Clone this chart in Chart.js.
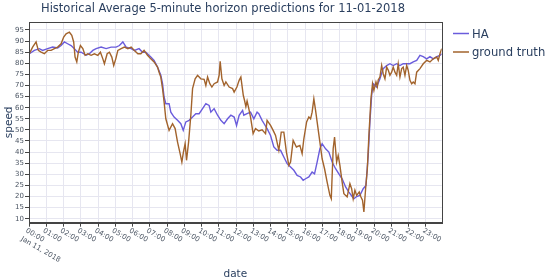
<!DOCTYPE html>
<html>
<head>
<meta charset="utf-8">
<script src="https://cdn.jsdelivr.net/npm/chart.js@4"></script>
<style>
  html, body { margin: 0; padding: 0; background: #fff; }
  #wrap { width: 550px; height: 280px; }
</style>
</head>
<body>
<div id="wrap"><canvas id="c" width="550" height="280"></canvas></div>
<script>
// ---- data (hours since midnight, speed) ----
const chartTitle = "Historical Average 5-minute horizon predictions for 11-01-2018";
const hourLabels = ["00:00","01:00","02:00","03:00","04:00","05:00","06:00","07:00","08:00","09:00","10:00","11:00",
                    "12:00","13:00","14:00","15:00","16:00","17:00","18:00","19:00","20:00","21:00","22:00","23:00"];
const dateLabel = "Jan 11, 2018";
const speedTicks = [10,15,20,25,30,35,40,45,50,55,60,65,70,75,80,85,90,95];

const haHours = [0.02,0.31,0.60,0.79,1.08,1.37,1.66,1.86,2.05,2.24,2.44,2.63,2.82,3.02,3.31,3.50,3.70,3.89,4.18,4.47,4.76,5.05,5.24,5.44,5.63,5.92,6.11,
  6.38,6.58,6.77,7.06,7.25,7.45,7.64,7.74,7.83,7.93,8.12,8.22,8.41,8.61,8.80,8.94,9.09,9.28,9.48,9.67,9.86,10.06,10.25,10.44,10.54,10.73,10.93,11.12,11.31,11.51,11.70,11.89,12.03,12.18,12.38,
  12.45,12.64,12.84,13.03,13.22,13.32,13.51,13.61,13.80,14.00,14.19,14.38,14.58,14.77,14.96,15.16,15.35,15.54,15.74,15.89,16.03,16.22,16.41,16.55,16.70,16.86,16.99,17.19,17.38,17.57,17.77,17.96,18.15,18.35,18.54,
  18.73,18.83,18.99,19.18,19.37,19.53,19.66,19.76,19.86,19.95,20.15,20.34,20.53,20.73,20.92,21.11,21.31,21.50,21.69,21.89,22.08,22.27,22.47,22.66,22.85,23.05,23.24,23.43,23.63,23.82,23.92];
const haSpeed = [84.3,85.8,86.6,85.8,86.6,87.3,86.9,88,89.6,88.8,88,86.6,85,85,83.6,84.3,85.8,86.6,87.3,86.6,87.3,87.3,88,89.6,87.3,86.6,85.8,
  86.6,85,85,82.8,81.3,78.3,74.6,70.8,64.8,61.8,61.8,58,55.8,54.3,52.8,49.8,53.6,54.3,55.8,57.3,57.3,59.6,61.8,61,58,59.6,56.6,54.3,52.8,55,56.6,55.8,52,56.6,58.8,
  56.6,57.3,58,55,58,57.3,54.3,53,50.6,47.5,42.3,40.8,40.8,37.8,34.8,33.3,31.8,29.5,28.8,27.3,28,28.8,31,30.2,35.5,41.5,43.8,41.5,40,35.5,32.5,30.2,28,24.3,22,
  20,19,20,20.5,23.5,25,38.5,53.6,65.6,70.8,69.3,73,77.6,79,79.8,79,79.8,79,79.8,79.8,79.8,80.6,81.3,83.6,83,82,83,82,83,83.6,84.3];

const gtHours = [0.02,0.21,0.41,0.54,0.70,0.89,1.08,1.28,1.47,1.66,1.86,2.01,2.15,2.34,2.48,2.59,2.67,2.77,2.86,2.98,3.12,3.25,3.41,3.60,3.79,3.99,4.14,4.28,4.37,4.53,4.66,4.80,4.91,5.03,5.15,5.34,5.53,5.73,5.92,6.11,6.31,
  6.48,6.67,6.87,7.06,7.25,7.45,7.54,7.64,7.74,7.83,7.93,8.12,8.32,8.47,8.61,8.76,8.86,8.95,9.05,9.13,9.25,9.38,9.48,9.63,9.77,9.96,10.15,10.25,10.35,10.48,10.60,10.73,10.93,11.02,11.08,11.18,11.31,11.41,11.60,11.80,11.89,12.05,12.18,12.28,12.42,
  12.50,12.57,12.64,12.74,12.84,12.99,13.13,13.32,13.51,13.71,13.80,14.00,14.15,14.29,14.48,14.62,14.77,14.92,15.06,15.16,15.31,15.50,15.70,15.83,15.93,16.09,16.22,16.32,16.41,16.51,16.61,16.70,16.86,16.99,17.13,17.28,17.44,17.52,17.63,17.71,17.83,17.92,18.02,18.15,18.25,18.44,
  18.60,18.70,18.79,18.89,18.99,19.14,19.24,19.33,19.41,19.51,19.61,19.70,19.82,19.91,19.99,20.11,20.19,20.24,20.34,20.44,20.53,20.63,20.73,20.82,20.92,21.02,21.11,21.21,21.31,21.40,21.50,21.60,21.69,21.79,21.89,21.98,22.08,22.18,22.27,22.37,22.47,22.66,22.85,23.05,23.24,23.43,23.63,23.72,23.82,23.92];
const gtSpeed = [84.3,87.3,89.6,85.8,85,84.3,85.8,85.8,86.6,87.3,88.8,91.8,93.3,94,92.6,89.6,82.8,80.6,85,88,86.6,83.6,84.3,83.6,84.3,83.6,85,82,79.8,84.3,85,82.8,79,82,85.8,86.6,87.3,86.6,87.3,85.8,84.3,
  84.3,85.8,83.6,82,80.6,78.3,76,73.8,68.6,62.6,55,49.8,52.8,50.6,44.5,39.3,35.5,40,43.8,36.3,44.5,56.6,68.6,73,74.6,73,72.8,70,73.8,70.8,69.3,70.8,71.6,74.6,80.9,73,70,71.6,69.3,68.6,67,69.3,72.3,73.8,65.6,
  63,60.5,63,59.6,55.8,48.3,50.6,49.5,50,48.3,54.3,52,49.8,47.5,40.8,49,49,40,34,35.5,45.3,42.3,43,39.3,46,53.6,55.8,55,58,64,58.8,53.6,44.5,37,32.5,26.5,20.5,19,41.5,46.8,35.5,38.5,34,26.5,21.3,19.8,
  25.8,23.5,19,22.8,20.5,22,19.8,18.3,13,23.5,32.5,47.5,64,70.8,67.8,71.6,69.5,72.5,73.8,79,75.3,73,78.3,77,74.6,76,78.3,76,74.6,79.8,73.8,77.6,78.3,74.6,79,76.8,72.3,70.8,71.6,70.8,76,77.6,79.8,81.3,80.6,82,82.8,81.3,84.3,86.6];

const haColor = '#6a5cdc';
const gtColor = '#a2632c';
const textColor = '#2a3f5f';
const tickTextColor = '#4b5563';
const font = '"DejaVu Sans", Verdana, sans-serif';

const overlay = {
  id: 'overlay',
  afterDraw(chart) {
    const { ctx, chartArea: a, scales } = chart;
    const x = scales.x;
    ctx.save();
    // frame
    ctx.strokeStyle = '#444';
    ctx.lineWidth = 1;
    ctx.strokeRect(Math.round(a.left) + 0.5, Math.round(a.top) + 0.5, Math.round(a.right - a.left), Math.round(a.bottom - a.top));
    // x tick labels rotated 30deg
    ctx.fillStyle = tickTextColor;
    ctx.font = '7px ' + font;
    ctx.textAlign = 'left';
    ctx.textBaseline = 'top';
    hourLabels.forEach((lab, i) => {
      const px = x.getPixelForValue(i);
      ctx.save();
      ctx.translate(px - 1, a.bottom + 4.5);
      ctx.rotate(Math.PI / 6);
      ctx.fillText(lab, 0, 0);
      if (i === 0) ctx.fillText(dateLabel, 0, 9.5);
      ctx.restore();
    });
    // title
    ctx.fillStyle = textColor;
    ctx.font = '11.5px ' + font;
    ctx.textAlign = 'center';
    ctx.textBaseline = 'alphabetic';
    ctx.fillText(chartTitle, 223, 12);
    // axis titles
    ctx.font = '10.5px ' + font;
    ctx.fillText('date', (a.left + a.right) / 2, 277);
    ctx.save();
    ctx.translate(11.5, (a.top + a.bottom) / 2);
    ctx.rotate(-Math.PI / 2);
    ctx.fillText('speed', 0, 0);
    ctx.restore();
    // legend
    const items = [['HA', haColor, 33.5], ['ground truth', gtColor, 52]];
    ctx.font = '11.6px ' + font;
    ctx.textAlign = 'left';
    ctx.textBaseline = 'middle';
    items.forEach(([lab, col, yy]) => {
      ctx.strokeStyle = col;
      ctx.lineWidth = 1.5;
      ctx.beginPath();
      ctx.moveTo(453, yy);
      ctx.lineTo(469, yy);
      ctx.stroke();
      ctx.fillStyle = textColor;
      ctx.fillText(lab, 472, yy + 1);
    });
    ctx.restore();
  }
};

new Chart(document.getElementById('c'), {
  type: 'line',
  data: {
    datasets: [
      { label: 'HA', data: haHours.map((h, i) => ({ x: h, y: haSpeed[i] })), borderColor: haColor, borderWidth: 1.4, pointRadius: 0, tension: 0, order: 1 },
      { label: 'ground truth', data: gtHours.map((h, i) => ({ x: h, y: gtSpeed[i] })), borderColor: gtColor, borderWidth: 1.4, pointRadius: 0, tension: 0, order: 0 }
    ]
  },
  options: {
    responsive: false,
    animation: false,
    devicePixelRatio: 1,
    layout: { padding: { left: 0, right: 108.3, top: 22, bottom: 0 } },
    plugins: { legend: { display: false }, title: { display: false }, tooltip: { enabled: false } },
    scales: {
      x: {
        type: 'linear', min: 0, max: 23.92,
        afterBuildTicks: s => { s.ticks = hourLabels.map((_, i) => ({ value: i })); },
        afterFit: s => { s.height = 57.3; },
        ticks: { display: false },
        grid: { color: '#e6e6f0', tickColor: '#444', tickLength: 4, drawTicks: true },
        border: { color: '#444', width: 1 }
      },
      y: {
        min: 8.2, max: 98.6,
        afterBuildTicks: s => { s.ticks = speedTicks.map(v => ({ value: v })); },
        afterFit: s => { s.width = 29; },
        ticks: { color: tickTextColor, font: { family: font, size: 7 }, padding: 1 },
        grid: { color: '#e6e6f0', tickColor: '#444', tickLength: 4, drawTicks: true },
        border: { color: '#444', width: 1 }
      }
    }
  },
  plugins: [overlay]
});
</script>
</body>
</html>
